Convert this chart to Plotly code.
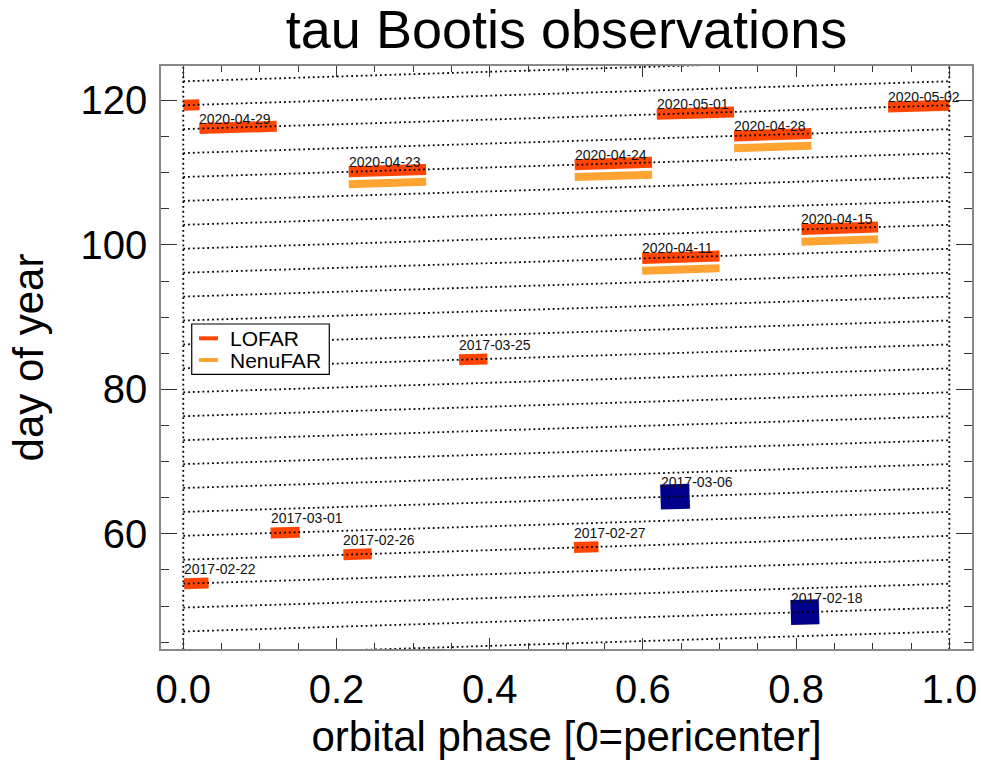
import plotly.graph_objects as go

# ---------------- data ----------------
# day of year at phase 0 of each orbital cycle (dotted guide lines)
cycle_start_day = [43.16, 46.47, 49.78, 53.09, 56.41, 59.72, 63.03, 66.34, 69.65,
                   72.96, 76.28, 79.59, 82.90, 86.22, 89.53, 92.84, 96.15, 99.47,
                   102.78, 106.09, 109.40, 112.71, 116.03, 119.34, 122.65]
PERIOD = 3.31  # days per orbital cycle (rise of each guide line)

# LOFAR observations
lofar_label = ["2017-02-22", "2017-02-26", "2017-02-27", "2017-03-01", "2017-03-25",
               "2020-04-11", "2020-04-15", "2020-04-23", "2020-04-24", "2020-04-28",
               "2020-04-29", "2020-05-01", "2020-05-02", ""]
lofar_phase_start = [0.001, 0.209, 0.510, 0.114, 0.360,
                     0.599, 0.807, 0.216, 0.511, 0.719,
                     0.021, 0.618, 0.920, 0.000]
lofar_phase_end = [0.033, 0.246, 0.542, 0.152, 0.397,
                   0.700, 0.907, 0.317, 0.612, 0.820,
                   0.122, 0.719, 1.000, 0.021]
lofar_day = [53.15, 57.16, 58.15, 60.16, 84.15,
             98.30, 102.31, 110.28, 111.26, 115.26,
             116.27, 118.24, 119.21, 119.37]

# NenuFAR observations
nenu_phase_start = [0.599, 0.807, 0.216, 0.511, 0.719]
nenu_phase_end = [0.700, 0.907, 0.317, 0.612, 0.820]
nenu_day = [96.60, 100.61, 108.58, 109.56, 113.56]

# other observations (blue squares)
other_label = ["2017-02-18", "2017-03-06"]
other_phase_start = [0.793, 0.623]
other_phase_end = [0.830, 0.661]
other_day = [49.16, 65.15]

x_tick_vals = [0.0, 0.2, 0.4, 0.6, 0.8, 1.0]
x_tick_text = ["0.0", "0.2", "0.4", "0.6", "0.8", "1.0"]
y_tick_vals = [60, 80, 100, 120]
legend_names = ["LOFAR", "NenuFAR"]

# ---------------- styles ----------------
RED = "#FF4500"
ORANGE = "#FFA333"
BLUE = "#00008C"
FONT = "Liberation Sans, Arial, sans-serif"
DOT = dict(color="black", width=1.8, dash="1.8px,3px")

fig = go.Figure()


def segment(p0, p1, d):
    pm = 0.5 * (p0 + p1)
    return [p0, p1], [d - (pm - p0) * PERIOD, d + (p1 - pm) * PERIOD]


for p0, p1, d in zip(lofar_phase_start, lofar_phase_end, lofar_day):
    xs, ys = segment(p0, p1, d)
    fig.add_trace(go.Scatter(x=xs, y=ys, mode="lines",
                             line=dict(color=RED, width=11),
                             showlegend=False, hoverinfo="skip", name="LOFAR"))

for p0, p1, d in zip(nenu_phase_start, nenu_phase_end, nenu_day):
    xs, ys = segment(p0, p1, d)
    fig.add_trace(go.Scatter(x=xs, y=ys, mode="lines",
                             line=dict(color=ORANGE, width=8),
                             showlegend=False, hoverinfo="skip", name="NenuFAR"))

for p0, p1, d in zip(other_phase_start, other_phase_end, other_day):
    xs, ys = segment(p0, p1, d)
    fig.add_trace(go.Scatter(x=xs, y=ys, mode="lines",
                             line=dict(color=BLUE, width=25),
                             showlegend=False, hoverinfo="skip"))

# dotted guide lines (one per orbital cycle)
gx, gy = [], []
for s in cycle_start_day:
    gx += [0.0, 1.0, None]
    gy += [s, s + PERIOD, None]
fig.add_trace(go.Scatter(x=gx, y=gy, mode="lines", line=DOT,
                         showlegend=False, hoverinfo="skip"))
# vertical dotted lines at phase 0 and 1
fig.add_trace(go.Scatter(x=[0.0, 0.0, None, 1.0, 1.0],
                         y=[40, 130, None, 40, 130], mode="lines", line=DOT,
                         showlegend=False, hoverinfo="skip"))

# date labels
annotations = []


def add_label(text, p0, p1, d):
    if not text:
        return
    xs, ys = segment(p0, p1, d)
    shift = 15 if text.startswith("2017") else 10
    annotations.append(dict(x=p0, y=ys[0], xref="x", yref="y", text=text,
                            showarrow=False, xanchor="left", yanchor="middle",
                            xshift=-2, yshift=shift,
                            font=dict(family=FONT, size=14, color="#111")))


for t, p0, p1, d in zip(lofar_label, lofar_phase_start, lofar_phase_end, lofar_day):
    add_label(t, p0, p1, d)
for t, p0, p1, d in zip(other_label, other_phase_start, other_phase_end, other_day):
    add_label(t, p0, p1, d)

# legend box (drawn by hand to match compact layout)
shapes = [dict(type="rect", xref="paper", yref="paper",
               x0=0.0379, x1=0.2075, y0=0.4712, y1=0.5575,
               line=dict(color="black", width=1.2), fillcolor="white", layer="above")]
legend_colors = [RED, ORANGE]
legend_y = [0.5329, 0.4957]
for name, col, ly in zip(legend_names, legend_colors, legend_y):
    shapes.append(dict(type="line", xref="paper", yref="paper",
                       x0=0.0469, x1=0.0703, y0=ly, y1=ly,
                       line=dict(color=col, width=4), layer="above"))
    annotations.append(dict(x=0.0851, y=ly, xref="paper", yref="paper", text=name,
                            showarrow=False, xanchor="left", yanchor="middle",
                            xshift=-2, font=dict(family=FONT, size=21, color="black")))

axis_common = dict(showgrid=False, zeroline=False, showline=True, automargin=False,
                   linecolor="#888", linewidth=1.5, mirror="allticks",
                   ticks="inside", tickcolor="#333", tickwidth=1.3)

fig.update_layout(
    width=981, height=760,
    margin=dict(l=161, r=9, t=66, b=111, autoexpand=False),
    paper_bgcolor="white", plot_bgcolor="white",
    font=dict(family=FONT, color="black"),
    showlegend=False,
    title=dict(text="tau Bootis observations", x=0.5, xref="paper",
               y=1 - 29 / 760, yref="container", yanchor="middle", xanchor="center",
               font=dict(size=54, family=FONT, color="black")),
    xaxis=dict(range=[-0.0291, 1.0296], tickvals=x_tick_vals, ticktext=x_tick_text,
               ticklen=11, tickfont=dict(size=40), ticklabelstandoff=4,
               minor=dict(dtick=0.05, tick0=0, ticklen=6, ticks="inside",
                          tickcolor="#333", tickwidth=1.3),
               title=dict(text="orbital phase [0=pericenter]",
                          font=dict(size=42), standoff=19),
               **axis_common),
    yaxis=dict(range=[44.05, 124.77], tickvals=y_tick_vals,
               ticklen=16, tickfont=dict(size=40), ticklabelstandoff=4,
               minor=dict(dtick=5, tick0=0, ticklen=8, ticks="inside",
                          tickcolor="#333", tickwidth=1.3),
               title=dict(text="day of year", font=dict(size=42), standoff=24),
               **axis_common),
    shapes=shapes,
    annotations=annotations,
)

fig.write_html("out.html", config={"displayModeBar": False},
               post_script="document.body.style.margin='0';document.body.style.padding='0';")
